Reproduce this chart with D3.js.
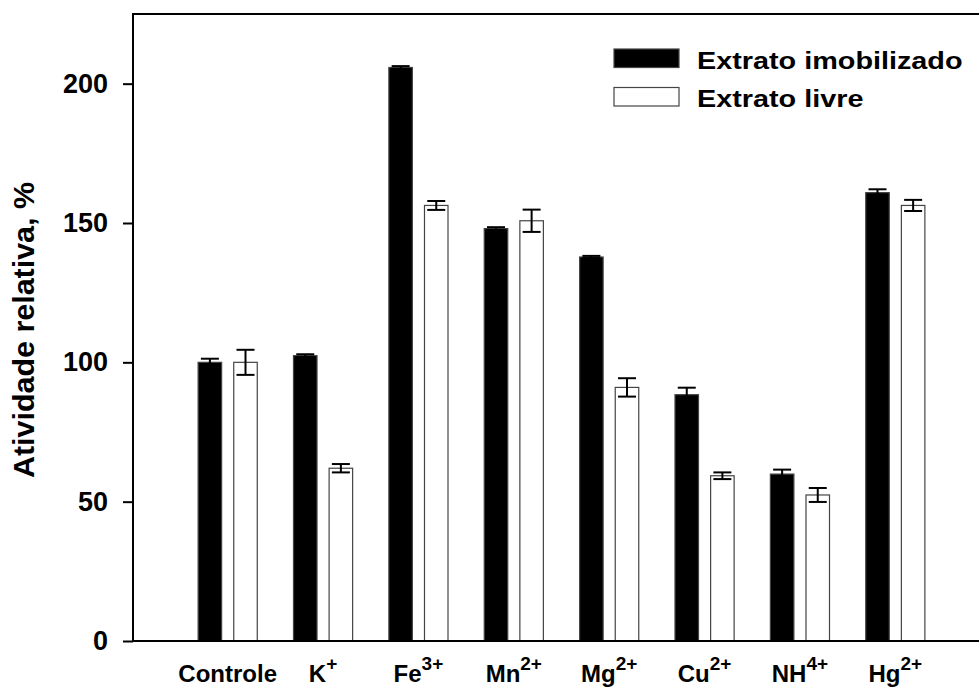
<!DOCTYPE html>
<html>
<head>
<meta charset="utf-8">
<script src="https://cdn.jsdelivr.net/npm/d3@7"></script>
<style>
  body { margin: 0; background: #fff; }
  text { font-family: "Liberation Sans", Arial, sans-serif; font-weight: bold; fill: #000; }
</style>
</head>
<body>
<div id="chart"></div>
<script>
// data
var categories = ["Controle", "K", "Fe", "Mn", "Mg", "Cu", "NH", "Hg"];
var charges = ["", "+", "3+", "2+", "2+", "2+", "4+", "2+"];
var series = ["Extrato imobilizado", "Extrato livre"];
var imobilizado = [100, 102.4, 205.8, 148, 137.8, 88.4, 59.9, 160.9];
var imobilizadoErr = [1.3, 0.5, 0.5, 0.5, 0.4, 2.5, 1.6, 1.2];
var livre = [100, 62, 156.3, 150.8, 91, 59.3, 52.4, 156.3];
var livreErr = [4.5, 1.5, 1.6, 4, 3.3, 1.2, 2.5, 2];
var yTicks = [0, 50, 100, 150, 200];

var svgWidth = 979;
var svgHeight = 687;

var svg = d3.select("#chart")
  .append("svg")
  .attr("width", svgWidth)
  .attr("height", svgHeight);

var plotLeft = 133, plotTop = 14, plotBottom = 641, plotRight = 1000;

var x0 = d3.scaleBand()
  .domain(categories)
  .range([180, 943])
  .paddingInner(0.38)
  .paddingOuter(0.19);

var x1 = d3.scaleBand()
  .domain(series)
  .range([0, x0.bandwidth()])
  .paddingInner(0.34);

var y = d3.scaleLinear()
  .domain([0, 225])
  .range([plotBottom, plotTop]);

// build rows for bars
var rows = [];
categories.forEach(function(c, i) {
  rows.push({cat: c, s: series[0], v: imobilizado[i], e: imobilizadoErr[i]});
  rows.push({cat: c, s: series[1], v: livre[i], e: livreErr[i]});
});

var fills = {"Extrato imobilizado": "#000", "Extrato livre": "#fff"};

svg.selectAll("rect.bar")
  .data(rows)
  .enter()
  .append("rect")
  .attr("class", "bar")
  .attr("x", d => x0(d.cat) + x1(d.s))
  .attr("y", d => y(d.v))
  .attr("width", x1.bandwidth())
  .attr("height", d => y(0) - y(d.v))
  .attr("fill", d => fills[d.s])
  .attr("stroke", "#444")
  .attr("stroke-width", 1.2);

// error bars
var capW = 18;
var midX = d => x0(d.cat) + x1(d.s) + x1.bandwidth() / 2;
var errG = svg.selectAll("g.err")
  .data(rows)
  .enter()
  .append("g")
  .attr("class", "err")
  .attr("stroke", "#000")
  .attr("stroke-width", 2);

errG.append("line")
  .attr("x1", midX)
  .attr("x2", midX)
  .attr("y1", d => y(d.v + d.e))
  .attr("y2", d => y(d.v - d.e));

errG.append("line")
  .attr("x1", d => midX(d) - capW / 2)
  .attr("x2", d => midX(d) + capW / 2)
  .attr("y1", d => y(d.v + d.e))
  .attr("y2", d => y(d.v + d.e));

errG.append("line")
  .attr("x1", d => midX(d) - capW / 2)
  .attr("x2", d => midX(d) + capW / 2)
  .attr("y1", d => y(d.v - d.e))
  .attr("y2", d => y(d.v - d.e));

// frame: top and bottom lines run off the right edge
svg.append("path")
  .attr("d", `M${plotRight},${plotTop}H${plotLeft}V${plotBottom}H${plotRight}`)
  .attr("fill", "none")
  .attr("stroke", "#000")
  .attr("stroke-width", 2);

// left axis
var leftAxis = d3.axisLeft(y)
  .tickValues(yTicks)
  .tickSize(10)
  .tickPadding(15);

var yAxisG = svg.append("g")
  .attr("transform", `translate(${plotLeft},0)`)
  .call(leftAxis);
yAxisG.select(".domain").remove();
yAxisG.selectAll(".tick line").attr("stroke", "#000").attr("stroke-width", 2);
yAxisG.selectAll(".tick text")
  .attr("font-size", 27)
  .attr("font-family", "Liberation Sans, Arial, sans-serif")
  .attr("font-weight", "bold")
  .attr("fill", "#000");

// x labels with superscript charges
var xl = svg.selectAll("text.xlab")
  .data(categories)
  .enter()
  .append("text")
  .attr("class", "xlab")
  .attr("x", d => x0(d) + x0.bandwidth() / 2)
  .attr("y", 682)
  .attr("text-anchor", "middle")
  .attr("font-size", 24);

xl.append("tspan").text(d => d);
xl.append("tspan")
  .attr("dy", -12)
  .attr("font-size", 19)
  .text((d, i) => charges[i]);

// y title
svg.append("text")
  .attr("transform", "translate(34,330) rotate(-90) scale(1.05,1)")
  .attr("text-anchor", "middle")
  .attr("font-size", 29)
  .text("Atividade relativa, %");

// legend
var legend = svg.selectAll("g.legend")
  .data(series)
  .enter()
  .append("g")
  .attr("class", "legend")
  .attr("transform", (d, i) => `translate(614,${49 + i * 38.5})`);

legend.append("rect")
  .attr("width", 65)
  .attr("height", 18.5)
  .attr("fill", d => fills[d])
  .attr("stroke", "#444")
  .attr("stroke-width", 1.2);

legend.append("text")
  .attr("transform", "translate(83,19.5) scale(1.2,1)")
  .attr("font-size", 24)
  .text(d => d);
</script>
</body>
</html>
